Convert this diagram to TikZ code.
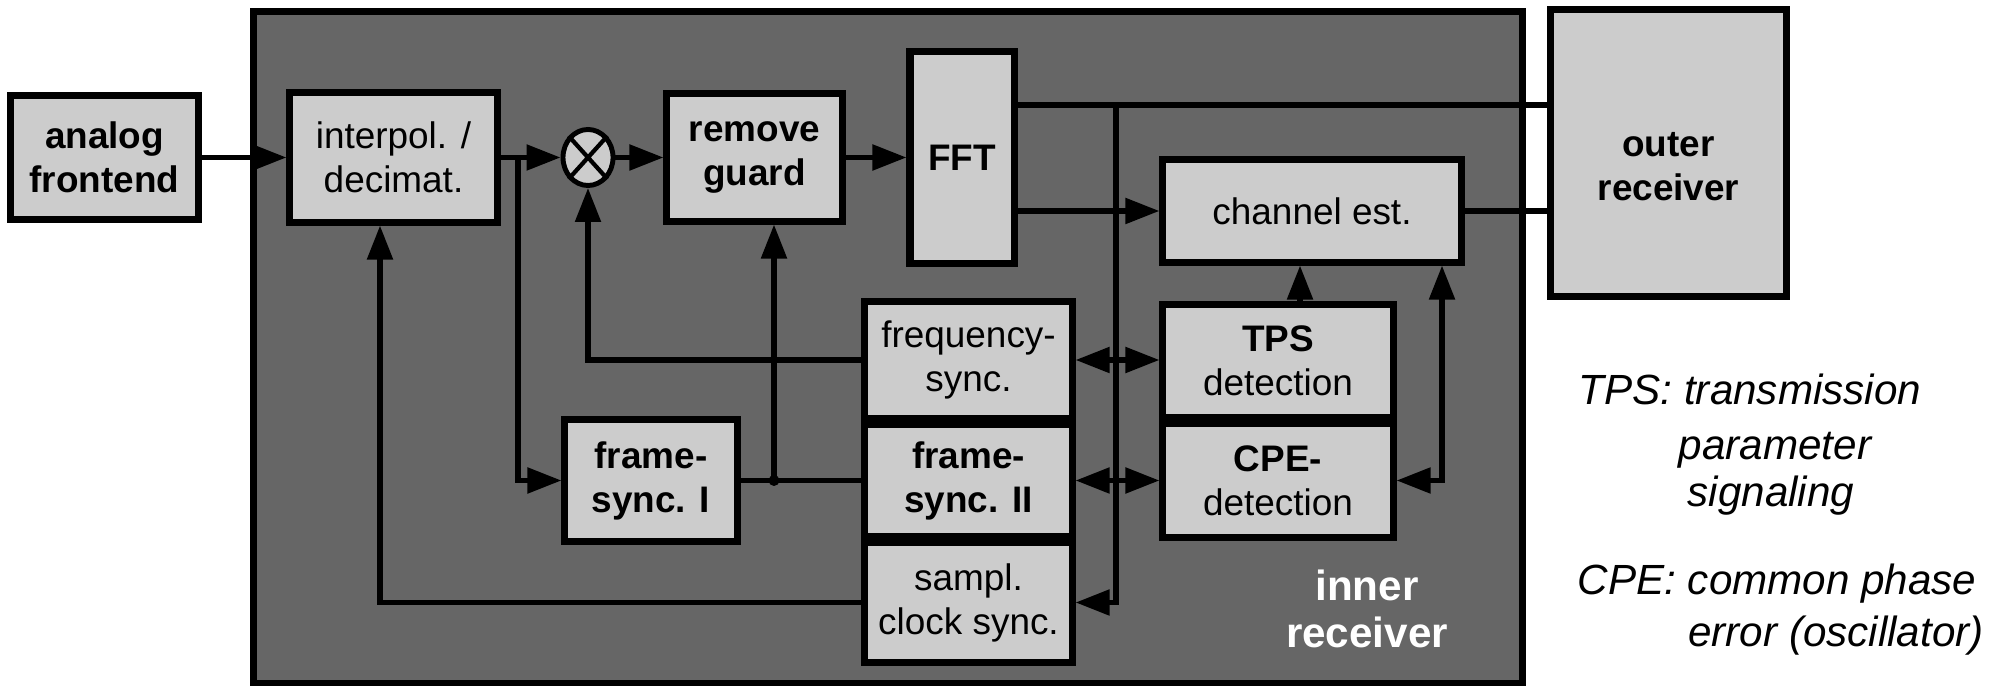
\documentclass[tikz,border=0pt]{standalone}
\usepackage{fontspec}
\setmainfont{Liberation Sans}
\usetikzlibrary{arrows.meta,shapes.geometric}
\definecolor{boxgray}{HTML}{CCCCCC}
\definecolor{innergray}{HTML}{666666}
\tikzset{
  blk/.style={draw=black, line width=2pt, fill=boxgray, inner sep=0pt, align=center,
              font=\fontsize{10.5}{12.5}\selectfont},
  sz/.style 2 args={minimum width=#1cm, minimum height=#2cm},
  ln/.style={line width=1.5pt},
  arr/.style={line width=1.5pt, -{Triangle[length=0.34cm,width=0.25cm]}},
  dbl/.style={line width=1.5pt, {Triangle[length=0.34cm,width=0.25cm]}-{Triangle[length=0.34cm,width=0.25cm]}},
  legend/.style={font=\fontsize{12}{14.5}\selectfont\itshape, inner sep=0pt},
  jdot/.style={circle, fill=black, inner sep=0pt, minimum size=0.11cm}
}
\begin{document}
\begin{tikzpicture}[x=0.01cm,y=-0.01cm]
\useasboundingbox (0,0) rectangle (2007,686);
% inner receiver area
\node[draw=black, line width=2pt, fill=innergray, inner sep=0pt, sz={12.68}{6.71}] (inner) at (888,347.5) {};
\node[font=\fontsize{12}{13.6}\selectfont\bfseries, text=white, align=center] (irl) at (1367,609) {inner\\receiver};

% blocks
\node[blk, sz={1.87}{1.23}] (af) at (104.5,157.5) {\bfseries analog\\\bfseries frontend};
\node[blk, sz={2.07}{1.29}] (ip) at (393.5,157.5) {interpol. /\\decimat.};
\node[draw=black, line width=1.4pt, fill=boxgray, ellipse, minimum width=0.5cm, minimum height=0.56cm, inner sep=0pt] (mul) at (588,157.5) {};
\node[blk, sz={1.75}{1.27}] (rg) at (754.5,157.5) {\bfseries remove\\\bfseries guard};
\node[blk, sz={1.04}{2.11}] (fft) at (962,157.5) {\bfseries FFT};
\node[blk, sz={2.98}{1.02}] (ce) at (1312,211) {channel est.};
\node[blk, sz={2.35}{2.86}] (outr) at (1668.5,153) {\rule{0pt}{0.52cm}\bfseries outer\\\bfseries receiver};
\node[blk, sz={2.07}{1.16}] (fs) at (968.5,360) {frequency-\\sync.};
\node[blk, sz={2.07}{1.11}] (f2) at (968.5,480.5) {\bfseries frame-\\\bfseries sync. II};
\node[blk, sz={2.07}{1.19}] (samp) at (968.5,602.5) {sampl.\\clock sync.};
\node[blk, sz={1.72}{1.21}] (fs1) at (651,480.5) {\bfseries frame-\\\bfseries sync. I};
\node[blk, sz={2.30}{1.12}] (tps) at (1278,361) {{\bfseries TPS}\\detection};
\node[blk, sz={2.30}{1.13}] (cpe) at (1278,480.5) {{\bfseries CPE-}\\detection};

% multiplier cross
\draw[line width=1.2pt] (mul.north west) -- (mul.south east) (mul.north east) -- (mul.south west);

% helper coordinates
\coordinate (yTop) at (0,105);
\coordinate (bus) at (1116,105);
\coordinate (brI) at (518,157.5);
\coordinate (xI) at (380,0);
\coordinate (xT) at (1300,0);
\coordinate (xC) at (1442,0);
\node[jdot] (jn) at (774,480.5) {};

% main signal path
\draw[arr] (af.east) -- (ip.west);
\draw[arr] (ip.east) -- (mul.west);
\draw[arr] (mul.east) -- (rg.west);
\draw[arr] (rg.east) -- (fft.west);
\draw[ln] (fft.east |- yTop) -- (outr.west |- yTop);
\draw[arr] (fft.east |- ce.west) -- (ce.west);
\draw[ln] (ce.east) -- (outr.west |- ce.east);

% bus to sync blocks
\draw[arr] (bus) |- (samp.east);
\draw[dbl] (fs.east) -- (fs.east -| tps.west);
\draw[dbl] (f2.east) -- (f2.east -| cpe.west);

% channel estimation feedback
\draw[arr] (tps.north -| xT) -- (ce.south -| xT);
\draw[dbl] (cpe.east) -| (ce.south -| xC);

% frame sync
\draw[arr] (brI) |- (fs1.west);
\draw[ln] (fs1.east) -- (f2.west);
\draw[arr] (jn.center) -- (rg.south -| jn);

% feedback loops
\draw[arr] (fs.west) -| (mul.south);
\draw[arr] (samp.west) -| (ip.south -| xI);

% legend
\node[legend, anchor=base west] (l1) at (1578,405) {TPS: transmission};
\node[legend, anchor=base] (l2) at (1775,460) {parameter};
\node[legend, anchor=base] (l3) at (1771,507) {signaling};
\node[legend, anchor=base west] (l4) at (1577,595) {CPE: common phase};
\node[legend, anchor=base] (l5) at (1836,647) {error (oscillator)};
\end{tikzpicture}
\end{document}
